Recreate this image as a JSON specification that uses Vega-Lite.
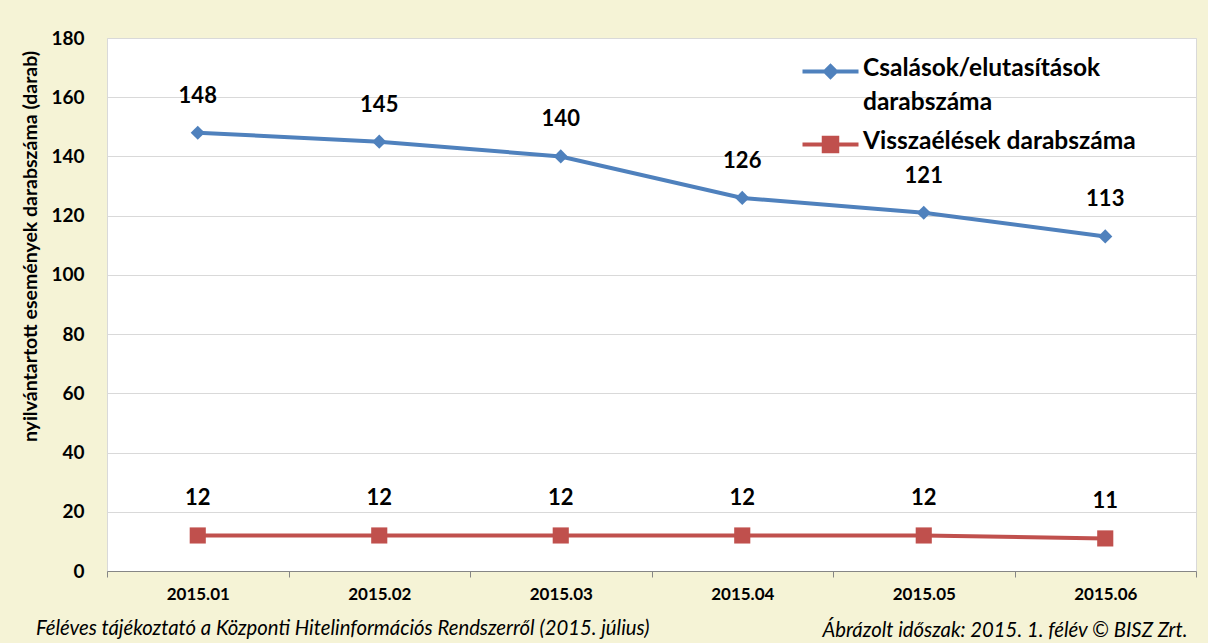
{
  "$schema": "https://vega.github.io/schema/vega-lite/v6.json",
  "width": 1089,
  "height": 533,
  "autosize": {"type": "none"},
  "padding": {"left": 107, "top": 38, "right": 12, "bottom": 72},
  "background": "#F5F3D6",
  "title": {
    "text": "Féléves tájékoztató a Központi Hitelinformációs Rendszerről (2015. július)",
    "orient": "bottom",
    "anchor": "start",
    "frame": "group",
    "font": "Lato",
    "fontSize": 20.3,
    "fontStyle": "italic",
    "fontWeight": "normal",
    "color": "#000000",
    "dx": -71,
    "dy": -21,
    "offset": 0
  },
  "config": {
    "font": "Lato",
    "view": {"fill": "#FFFFFF", "stroke": "#D9D9D9"}
  },
  "data": {
    "values": [
      {"honap": "2015.01", "sorozat": "Csalások/elutasítások darabszáma", "ertek": 148},
      {"honap": "2015.02", "sorozat": "Csalások/elutasítások darabszáma", "ertek": 145},
      {"honap": "2015.03", "sorozat": "Csalások/elutasítások darabszáma", "ertek": 140},
      {"honap": "2015.04", "sorozat": "Csalások/elutasítások darabszáma", "ertek": 126},
      {"honap": "2015.05", "sorozat": "Csalások/elutasítások darabszáma", "ertek": 121},
      {"honap": "2015.06", "sorozat": "Csalások/elutasítások darabszáma", "ertek": 113},
      {"honap": "2015.01", "sorozat": "Visszaélések darabszáma", "ertek": 12},
      {"honap": "2015.02", "sorozat": "Visszaélések darabszáma", "ertek": 12},
      {"honap": "2015.03", "sorozat": "Visszaélések darabszáma", "ertek": 12},
      {"honap": "2015.04", "sorozat": "Visszaélések darabszáma", "ertek": 12},
      {"honap": "2015.05", "sorozat": "Visszaélések darabszáma", "ertek": 12},
      {"honap": "2015.06", "sorozat": "Visszaélések darabszáma", "ertek": 11}
    ]
  },
  "encoding": {
    "x": {
      "field": "honap",
      "type": "nominal",
      "bandPosition": 0.5,
      "scale": {"type": "band", "paddingInner": 0, "paddingOuter": 0},
      "axis": {
        "title": "Ábrázolt időszak: 2015. 1. félév © BISZ Zrt.",
        "titleFont": "Lato",
        "titleFontSize": 20.3,
        "titleFontStyle": "italic",
        "titleFontWeight": "normal",
        "titleColor": "#000000",
        "titleAnchor": "end",
        "titleAlign": "right",
        "titleBaseline": "middle",
        "titleX": 1080,
        "titleY": 59,
        "labelAngle": 0,
        "labelFont": "Lato",
        "labelFontSize": 17,
        "labelFontWeight": "bold",
        "labelColor": "#000000",
        "labelPadding": 9,
        "tickBand": "extent",
        "tickSize": 6,
        "tickColor": "#868686",
        "domainColor": "#868686",
        "grid": false
      }
    },
    "y": {
      "field": "ertek",
      "type": "quantitative",
      "scale": {"domain": [0, 180], "nice": false},
      "axis": {
        "title": "nyilvántartott események darabszáma (darab)",
        "titleFont": "Lato",
        "titleFontSize": 19.5,
        "titleFontWeight": "bold",
        "titleColor": "#000000",
        "titlePadding": 10,
        "titleY": 208,
        "values": [0, 20, 40, 60, 80, 100, 120, 140, 160, 180],
        "labelFont": "Lato",
        "labelFontSize": 19,
        "labelFontWeight": "bold",
        "labelColor": "#000000",
        "labelPadding": 23,
        "ticks": false,
        "domain": false,
        "grid": true,
        "gridColor": "#D9D9D9",
        "gridWidth": 1
      }
    },
    "color": {
      "field": "sorozat",
      "type": "nominal",
      "scale": {
        "domain": ["Csalások/elutasítások darabszáma", "Visszaélések darabszáma"],
        "range": ["#4F81BD", "#C0504D"]
      },
      "legend": {
        "orient": "none",
        "legendX": 706,
        "legendY": 16,
        "title": null,
        "symbolSize": 1225,
        "symbolStrokeWidth": 0,
        "labelFont": "Lato",
        "labelFontSize": 24.5,
        "labelFontWeight": "bold",
        "labelColor": "#000000",
        "labelOffset": 15,
        "labelLimit": 400,
        "rowPadding": 13,
        "labelExpr": "datum.label == 'Csalások/elutasítások darabszáma' ? ['Csalások/elutasítások', 'darabszáma'] : datum.label",
        "encode": {
          "symbols": {
            "update": {
              "shape": {"signal": "datum.value == 'Visszaélések darabszáma' ? 'M-1.6,-0.11L1.6,-0.11L1.6,0.11L-1.6,0.11Z M-0.5,-0.5L0.5,-0.5L0.5,0.5L-0.5,0.5Z' : 'M-1.6,-0.11L1.6,-0.11L1.6,0.11L-1.6,0.11Z M0,-0.47L0.47,0L0,0.47L-0.47,0Z'"},
              "fill": {"scale": "color", "field": "value"},
              "stroke": {"value": "transparent"},
              "opacity": {"value": 1}
            }
          },
          "labels": {
            "update": {
              "baseline": {"value": "top"},
              "dy": {"value": -15},
              "lineHeight": {"value": 34}
            }
          }
        }
      }
    }
  },
  "layer": [
    {
      "mark": {"type": "line", "strokeWidth": 4}
    },
    {
      "transform": [{"filter": "datum.sorozat == 'Csalások/elutasítások darabszáma'"}],
      "mark": {"type": "point", "shape": "diamond", "filled": true, "opacity": 1, "size": 200}
    },
    {
      "transform": [{"filter": "datum.sorozat == 'Visszaélések darabszáma'"}],
      "mark": {"type": "point", "shape": "square", "filled": true, "opacity": 1, "size": 260}
    },
    {
      "mark": {
        "type": "text",
        "dy": -37,
        "baseline": "middle",
        "font": "Lato",
        "fontSize": 22,
        "fontWeight": "bold",
        "color": "#000000"
      },
      "encoding": {
        "text": {"field": "ertek", "type": "quantitative"},
        "color": {"value": "#000000"}
      }
    }
  ]
}
